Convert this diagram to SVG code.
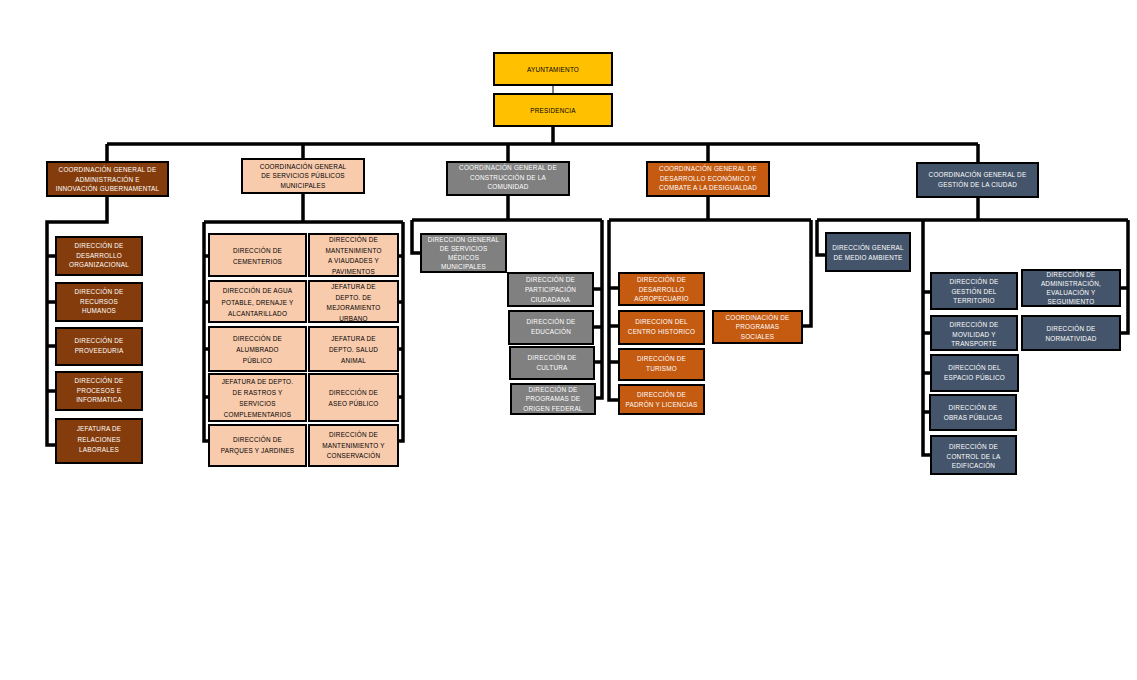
<svg xmlns="http://www.w3.org/2000/svg" width="1137" height="680" viewBox="0 0 1137 680">
<style>
rect{stroke:#000;stroke-width:2}
.y{fill:#FFC000}.b{fill:#843C0C}.p{fill:#F8CBAD}.g{fill:#808080}.o{fill:#C55A11}.s{fill:#44546A}
text{font-family:"Liberation Sans",Arial,sans-serif;font-size:6.4px;text-anchor:middle;letter-spacing:0.2px}
.w{fill:#fff}.k{fill:#000}
.c path{fill:none;stroke:#000;stroke-width:3.5}
.c .thin{stroke-width:1}
</style>
<g class="c" id="connectors">
<path class="thin" d="M553 85V94"/>
<path d="M553 126V144"/>
<path d="M107 144H978M107 144V162M303 144V159M508 144V162M708 144V162M978 144V163"/>
<path d="M107 196V222H47V445H56M47 256H56M47 302H56M47 346H56M47 391H56"/>
<path d="M303 193V222M204 222H403M204 222V441H209M403 222V441H398M204 256H209M204 302H209M204 349H209M204 397H209M403 256H398M403 302H398M403 349H398M403 397H398"/>
<path d="M508 195V220M412 220H602M412 220V253H421M602 220V398H595M602 289H593M602 327H593M602 362H594"/>
<path d="M708 196V220M609 220H811M609 220V400H619M609 288H619M609 326H619M609 362H619M811 220V326H802"/>
<path d="M978 197V220M817 220H1128M817 220V255H826M923 220V455H931M923 292H931M923 333H931M923 373H931M923 412H930M1128 220V333H1120M1128 288H1120"/>
</g>
<g id="ayuntamiento"><rect class="y" x="494" y="53" width="118" height="32"/><text class="k" x="553" y="71.5">AYUNTAMIENTO</text></g>
<g id="presidencia"><rect class="y" x="494" y="94" width="118" height="32"/><text class="k" x="553" y="112.5">PRESIDENCIA</text></g>

<g id="cg1"><rect class="b" x="47" y="162" width="121" height="34"/><text class="w" x="107.5"><tspan x="107.5" y="172">COORDINACIÓN GENERAL DE</tspan><tspan x="107.5" y="181.5">ADMINISTRACIÓN E</tspan><tspan x="107.5" y="191">INNOVACIÓN GUBERNAMENTAL</tspan></text></g>
<g id="cg2"><rect class="p" x="242" y="159" width="122" height="34"/><text class="k"><tspan x="303" y="168.5">COORDINACIÓN GENERAL</tspan><tspan x="303" y="178">DE SERVICIOS PÚBLICOS</tspan><tspan x="303" y="187.5">MUNICIPALES</tspan></text></g>
<g id="cg3"><rect class="g" x="447" y="162" width="122" height="33"/><text class="w"><tspan x="508" y="170">COORDINACIÓN GENERAL DE</tspan><tspan x="508" y="179.5">CONSTRUCCIÓN DE LA</tspan><tspan x="508" y="189">COMUNIDAD</tspan></text></g>
<g id="cg4"><rect class="o" x="647" y="162" width="122" height="34"/><text class="w"><tspan x="708" y="171">COORDINACIÓN GENERAL DE</tspan><tspan x="708" y="180.5">DESARROLLO ECONÓMICO Y</tspan><tspan x="708" y="190">COMBATE A LA DESIGUALDAD</tspan></text></g>
<g id="cg5"><rect class="s" x="917" y="163" width="121" height="34"/><text class="w"><tspan x="977.5" y="177">COORDINACIÓN GENERAL DE</tspan><tspan x="977.5" y="186.5">GESTIÓN DE LA CIUDAD</tspan></text></g>

<g id="b1"><rect class="b" x="56" y="237" width="86" height="38"/><text class="w"><tspan x="99" y="248">DIRECCIÓN DE</tspan><tspan x="99" y="257.5">DESARROLLO</tspan><tspan x="99" y="267">ORGANIZACIONAL</tspan></text></g>
<g id="b2"><rect class="b" x="56" y="283" width="86" height="38"/><text class="w"><tspan x="99" y="294">DIRECCIÓN DE</tspan><tspan x="99" y="303.5">RECURSOS</tspan><tspan x="99" y="313">HUMANOS</tspan></text></g>
<g id="b3"><rect class="b" x="56" y="328" width="86" height="37"/><text class="w"><tspan x="99" y="343">DIRECCIÓN DE</tspan><tspan x="99" y="353">PROVEEDURIA</tspan></text></g>
<g id="b4"><rect class="b" x="56" y="372" width="86" height="38"/><text class="w"><tspan x="99" y="383">DIRECCIÓN DE</tspan><tspan x="99" y="392.5">PROCESOS E</tspan><tspan x="99" y="402">INFORMATICA</tspan></text></g>
<g id="b5"><rect class="b" x="56" y="419" width="86" height="44"/><text class="w"><tspan x="99" y="431">JEFATURA DE</tspan><tspan x="99" y="441.5">RELACIONES</tspan><tspan x="99" y="452">LABORALES</tspan></text></g>

<g id="p1"><rect class="p" x="209" y="234" width="97" height="42"/><text class="k"><tspan x="257.5" y="253">DIRECCIÓN DE</tspan><tspan x="257.5" y="264">CEMENTERIOS</tspan></text></g>
<g id="p2"><rect class="p" x="309" y="234" width="89" height="42"/><text class="k"><tspan x="353.5" y="242">DIRECCIÓN DE</tspan><tspan x="353.5" y="252.5">MANTENIMIENTO</tspan><tspan x="353.5" y="263">A  VIAUDADES Y</tspan><tspan x="353.5" y="273.5">PAVIMENTOS</tspan></text></g>
<g id="p3"><rect class="p" x="209" y="281" width="97" height="41"/><text class="k"><tspan x="257.5" y="293">DIRECCIÓN DE AGUA</tspan><tspan x="257.5" y="304.5">POTABLE, DRENAJE  Y</tspan><tspan x="257.5" y="316">ALCANTARILLADO</tspan></text></g>
<g id="p4"><rect class="p" x="309" y="281" width="89" height="41"/><text class="k"><tspan x="353.5" y="289">JEFATURA DE</tspan><tspan x="353.5" y="299.5">DEPTO. DE</tspan><tspan x="353.5" y="310">MEJORAMIENTO</tspan><tspan x="353.5" y="320.5">URBANO</tspan></text></g>
<g id="p5"><rect class="p" x="209" y="327" width="97" height="44"/><text class="k"><tspan x="257.5" y="341">DIRECCIÓN DE</tspan><tspan x="257.5" y="352">ALUMBRADO</tspan><tspan x="257.5" y="363">PÚBLICO</tspan></text></g>
<g id="p6"><rect class="p" x="309" y="327" width="89" height="44"/><text class="k"><tspan x="353.5" y="341">JEFATURA DE</tspan><tspan x="353.5" y="352">DEPTO. SALUD</tspan><tspan x="353.5" y="363">ANIMAL</tspan></text></g>
<g id="p7"><rect class="p" x="209" y="374" width="97" height="47"/><text class="k"><tspan x="257.5" y="384">JEFATURA DE DEPTO.</tspan><tspan x="257.5" y="395">DE  RASTROS Y</tspan><tspan x="257.5" y="406">SERVICIOS</tspan><tspan x="257.5" y="417">COMPLEMENTARIOS</tspan></text></g>
<g id="p8"><rect class="p" x="309" y="374" width="89" height="47"/><text class="k"><tspan x="353.5" y="395">DIRECCIÓN DE</tspan><tspan x="353.5" y="406">ASEO PÚBLICO</tspan></text></g>
<g id="p9"><rect class="p" x="209" y="425" width="97" height="41"/><text class="k"><tspan x="257.5" y="442">DIRECCIÓN DE</tspan><tspan x="257.5" y="453">PARQUES Y JARDINES</tspan></text></g>
<g id="p10"><rect class="p" x="309" y="425" width="89" height="41"/><text class="k"><tspan x="353.5" y="437">DIRECCIÓN DE</tspan><tspan x="353.5" y="447.5">MANTENIMIENTO Y</tspan><tspan x="353.5" y="458">CONSERVACIÓN</tspan></text></g>

<g id="g1"><rect class="g" x="421" y="234" width="85" height="38"/><text class="w"><tspan x="463.5" y="242">DIRECCION GENERAL</tspan><tspan x="463.5" y="251">DE SERVICIOS</tspan><tspan x="463.5" y="260">MÉDICOS</tspan><tspan x="463.5" y="269">MUNICIPALES</tspan></text></g>
<g id="g2"><rect class="g" x="508" y="273" width="85" height="33"/><text class="w"><tspan x="550.5" y="282">DIRECCIÓN DE</tspan><tspan x="550.5" y="292">PARTICIPACIÓN</tspan><tspan x="550.5" y="302">CIUDADANA</tspan></text></g>
<g id="g3"><rect class="g" x="509" y="311" width="84" height="33"/><text class="w"><tspan x="551" y="324">DIRECCIÓN DE</tspan><tspan x="551" y="334">EDUCACIÓN</tspan></text></g>
<g id="g4"><rect class="g" x="510" y="347" width="84" height="32"/><text class="w"><tspan x="552" y="360">DIRECCIÓN DE</tspan><tspan x="552" y="370">CULTURA</tspan></text></g>
<g id="g5"><rect class="g" x="511" y="384" width="84" height="30"/><text class="w"><tspan x="553" y="391.5">DIRECCIÓN DE</tspan><tspan x="553" y="401">PROGRAMAS DE</tspan><tspan x="553" y="410.5">ORIGEN FEDERAL</tspan></text></g>

<g id="o1"><rect class="o" x="619" y="273" width="85" height="32"/><text class="w"><tspan x="661.5" y="282">DIRECCIÓN DE</tspan><tspan x="661.5" y="291.5">DESARROLLO</tspan><tspan x="661.5" y="301">AGROPECUARIO</tspan></text></g>
<g id="o2"><rect class="o" x="619" y="311" width="85" height="33"/><text class="w"><tspan x="661.5" y="324">DIRECCION DEL</tspan><tspan x="661.5" y="334">CENTRO HISTORICO</tspan></text></g>
<g id="o3"><rect class="o" x="619" y="349" width="85" height="31"/><text class="w"><tspan x="661.5" y="361">DIRECCIÓN DE</tspan><tspan x="661.5" y="371">TURISMO</tspan></text></g>
<g id="o4"><rect class="o" x="619" y="385" width="85" height="29"/><text class="w"><tspan x="661.5" y="397">DIRECCIÓN DE</tspan><tspan x="661.5" y="407">PADRÓN Y LICENCIAS</tspan></text></g>
<g id="o5"><rect class="o" x="713" y="311" width="89" height="32"/><text class="w"><tspan x="757.5" y="319.5">COORDINACIÓN DE</tspan><tspan x="757.5" y="329">PROGRAMAS</tspan><tspan x="757.5" y="338.5">SOCIALES</tspan></text></g>

<g id="s1"><rect class="s" x="826" y="233" width="84" height="38"/><text class="w"><tspan x="868" y="250">DIRECCIÓN GENERAL</tspan><tspan x="868" y="260">DE MEDIO AMBIENTE</tspan></text></g>
<g id="s2"><rect class="s" x="931" y="273" width="86" height="36"/><text class="w"><tspan x="974" y="284">DIRECCIÓN DE</tspan><tspan x="974" y="293.5">GESTIÓN DEL</tspan><tspan x="974" y="303">TERRITORIO</tspan></text></g>
<g id="s3"><rect class="s" x="931" y="316" width="86" height="34"/><text class="w"><tspan x="974" y="327">DIRECCIÓN DE</tspan><tspan x="974" y="336.5">MOVILIDAD Y</tspan><tspan x="974" y="346">TRANSPORTE</tspan></text></g>
<g id="s4"><rect class="s" x="931" y="355" width="87" height="36"/><text class="w"><tspan x="974.5" y="370">DIRECCIÓN DEL</tspan><tspan x="974.5" y="380">ESPACIO PÚBLICO</tspan></text></g>
<g id="s5"><rect class="s" x="930" y="395" width="86" height="35"/><text class="w"><tspan x="973" y="410">DIRECCIÓN DE</tspan><tspan x="973" y="420">OBRAS PÚBLICAS</tspan></text></g>
<g id="s6"><rect class="s" x="931" y="436" width="85" height="38"/><text class="w"><tspan x="973.5" y="449">DIRECCIÓN DE</tspan><tspan x="973.5" y="458.5">CONTROL  DE LA</tspan><tspan x="973.5" y="468">EDIFICACIÓN</tspan></text></g>
<g id="s7"><rect class="s" x="1022" y="270" width="98" height="36"/><text class="w"><tspan x="1071" y="276.5">DIRECCIÓN DE</tspan><tspan x="1071" y="285.5">ADMINISTRACIÓN,</tspan><tspan x="1071" y="294.5">EVALUACIÓN Y</tspan><tspan x="1071" y="303.5">SEGUIMIENTO</tspan></text></g>
<g id="s8"><rect class="s" x="1022" y="316" width="98" height="34"/><text class="w"><tspan x="1071" y="331">DIRECCIÓN DE</tspan><tspan x="1071" y="341">NORMATIVIDAD</tspan></text></g>
</svg>
